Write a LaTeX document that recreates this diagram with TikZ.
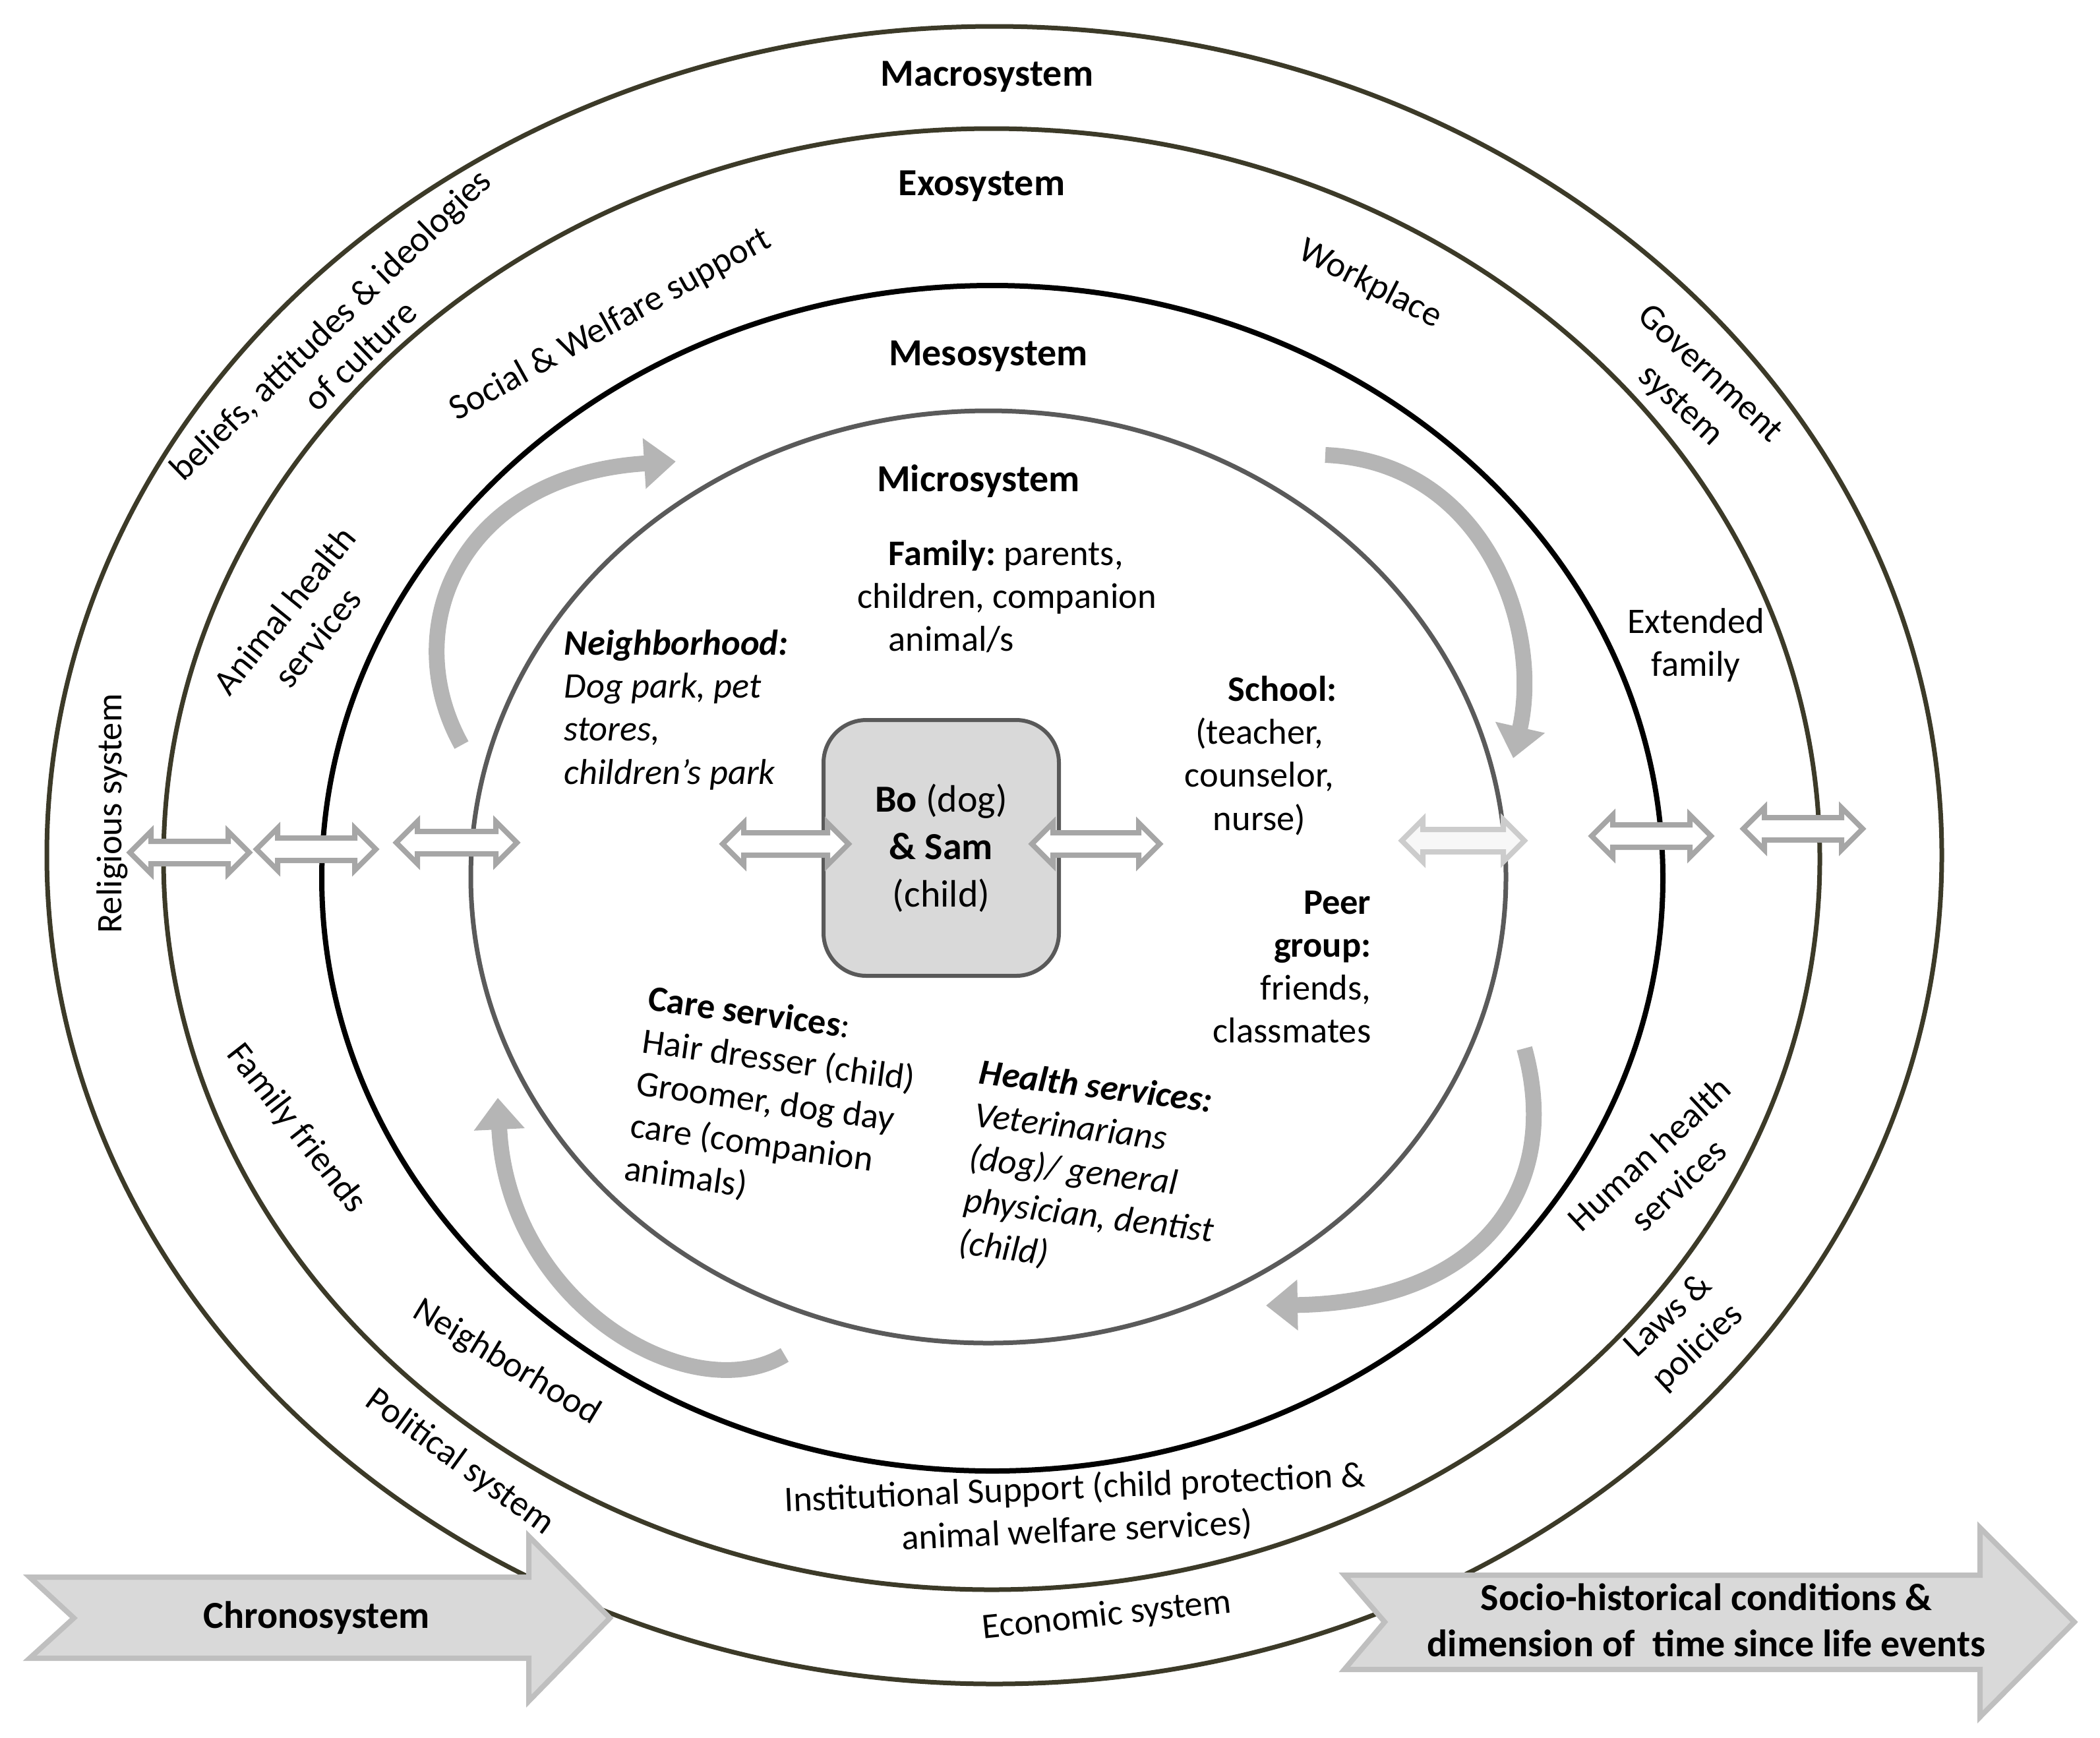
\documentclass[tikz,border=0pt]{standalone}
\usepackage{fontspec}
\setmainfont{Carlito}
\usetikzlibrary{arrows.meta}
\frenchspacing

\definecolor{ringolive}{RGB}{60,58,40}
\definecolor{ringgray}{RGB}{90,90,90}
\definecolor{boxedge}{RGB}{89,89,89}
\definecolor{timefill}{RGB}{217,217,217}
\definecolor{timeedge}{RGB}{191,191,191}

\begin{document}
\begin{tikzpicture}[
    every node/.style={font=\fontsize{15.5}{18.5}\selectfont, inner sep=0pt},
    title/.style={font=\fontsize{16.5}{20}\selectfont\bfseries},
    ring/.style={line width=0.07cm},
    twoway/.style={draw=gray!70, fill=white, line width=0.08cm},
    twowaypale/.style={draw=gray!40, fill=gray!6, line width=0.08cm},
    curvy/.style={draw=gray!58, line width=0.24cm, -{Triangle[width=0.74cm,length=0.48cm]}},
    timearrow/.style={draw=timeedge, fill=timefill, line width=0.08cm}
]
\useasboundingbox (0,0) rectangle (31.85,-26.35);

% the four systems
\draw[ring, ringolive] (15.08,-12.97) ellipse [x radius=14.37, y radius=12.57];
\draw[ring, ringolive] (15.04,-13.03) ellipse [x radius=12.56, y radius=11.08];
\draw[ring, black, line width=0.08cm] (15.05,-13.32) ellipse [x radius=10.17, y radius=8.99];
\draw[ring, ringgray] (14.99,-13.30) ellipse [x radius=7.85, y radius=7.07];

% curved arrows in the mesosystem
\draw[curvy] (7.00,-11.30) .. controls (6.00,-9.50) and (7.00,-7.20) .. (10.25,-7.00);
\draw[curvy] (20.10,-6.90) .. controls (22.50,-7.00) and (23.40,-9.50) .. (22.95,-11.50);
\draw[curvy] (23.12,-15.90) .. controls (23.70,-18.00) and (22.50,-19.75) .. (19.20,-19.80);
\draw[curvy] (11.90,-20.55) .. controls (10.50,-21.40) and (7.70,-19.80) .. (7.55,-16.65);

% centre
\node[draw=boxedge, fill=timefill, rounded corners=0.65cm, line width=0.06cm,
      minimum width=3.57cm, minimum height=3.88cm, align=center,
      font=\fontsize{16.5}{20.5}\selectfont] (bosam) at (14.275,-12.86)
      {\textbf{Bo} (dog)\\\textbf{\& Sam}\\(child)};

% two-way arrows
\foreach \cx/\cy/\hl/\sty in {2.875/-12.93/0.905/twoway, 4.795/-12.88/0.905/twoway,
    6.925/-12.78/0.915/twoway, 11.915/-12.80/0.955/twoway, 16.62/-12.80/0.97/twoway,
    22.19/-12.75/0.93/twowaypale, 25.045/-12.68/0.905/twoway, 27.345/-12.57/0.905/twoway}
  \draw[\sty] (\cx-\hl,\cy) -- (\cx-\hl+0.32,\cy+0.32) -- (\cx-\hl+0.32,\cy+0.17)
    -- (\cx+\hl-0.32,\cy+0.17) -- (\cx+\hl-0.32,\cy+0.32) -- (\cx+\hl,\cy)
    -- (\cx+\hl-0.32,\cy-0.32) -- (\cx+\hl-0.32,\cy-0.17) -- (\cx-\hl+0.32,\cy-0.17)
    -- (\cx-\hl+0.32,\cy-0.32) -- cycle;

% system names
\node[title] (macro) at (14.97,-1.16) {Macrosystem};
\node[title] (exo) at (14.89,-2.82) {Exosystem};
\node[title] (meso) at (14.99,-5.40) {Mesosystem};
\node[title] (micro) at (14.84,-7.30) {Microsystem};

% microsystem
\node[align=left, anchor=north west] (family) at (13.00,-8.19)
  {\hspace*{0.47cm}\textbf{Family:} parents,\\children, companion\\\hspace*{0.47cm}animal/s};
\node[align=left, anchor=north west, font=\fontsize{15.5}{18.5}\selectfont\itshape] (nbhd) at (8.55,-9.55)
  {\textbf{Neighborhood:}\\Dog park, pet\\stores,\\children’s park};
\node[align=center, anchor=north] (school) at (19.10,-10.25)
  {\hspace*{0.7cm}\textbf{School:}\\(teacher,\\counselor,\\nurse)};
\node[align=right, anchor=north east] (peer) at (20.80,-13.50)
  {\textbf{Peer}\\\textbf{group:}\\friends,\\classmates};
\node[align=left, anchor=north west, rotate=-8] (care) at (9.86,-14.93)
  {\textbf{Care services}:\\Hair dresser (child)\\Groomer, dog day\\care (companion\\animals)};
\node[align=left, anchor=north west, rotate=-7, font=\fontsize{15.5}{18.5}\selectfont\itshape] (health) at (14.88,-16.05)
  {\textbf{Health services:}\\Veterinarians\\(dog)/ general\\physician, dentist\\(child)};

% exosystem
\node[rotate=29] (socwel) at (9.26,-4.93) {Social \& Welfare support};
\node[rotate=-27] (workplace) at (20.78,-4.31) {Workplace};
\node[rotate=51, align=center] (animalhealth) at (4.56,-9.46) {Animal health\\services};
\node[align=center] (extfam) at (25.72,-9.78) {Extended\\family};
\node[rotate=-52] (famfriends) at (4.49,-17.12) {Family friends};
\node[rotate=-31] (nbhdexo) at (7.68,-20.67) {Neighborhood};
\node[rotate=43, align=center] (humanhealth) at (25.23,-17.73) {Human health\\services};
\node[rotate=2.5, align=center] (institutional) at (16.32,-22.90)
  {Institutional Support (child protection \&\\animal welfare services)};

% macrosystem
\node[rotate=44, align=center] (beliefs) at (5.23,-5.15) {beliefs, attitudes \& ideologies\\of culture};
\node[rotate=-43, align=center] (govt) at (25.70,-5.92) {Government\\system};
\node[rotate=90] (religious) at (1.70,-12.34) {Religious system};
\node[rotate=-36] (political) at (6.97,-22.18) {Political system};
\node[rotate=6] (economic) at (16.79,-24.51) {Economic system};
\node[rotate=43, align=center] (laws) at (25.53,-20.20) {Laws \&\\policies};

% chronosystem
\draw[timearrow] (0.45,-23.92) -- (8.02,-23.92) -- (8.02,-23.30) -- (9.25,-24.54)
  -- (8.02,-25.80) -- (8.02,-25.15) -- (0.45,-25.15) -- (1.12,-24.54) -- cycle;
\node[title] (chrono) at (4.80,-24.54) {Chronosystem};
\draw[timearrow] (20.39,-23.89) -- (30.03,-23.89) -- (30.03,-23.17) -- (31.46,-24.60)
  -- (30.03,-26.04) -- (30.03,-25.32) -- (20.39,-25.32) -- (21.00,-24.60) -- cycle;
\node[title, align=center] (sociohist) at (25.88,-24.57)
  {Socio-historical conditions \&\\dimension of\ \ time since life events};
\end{tikzpicture}
\end{document}
